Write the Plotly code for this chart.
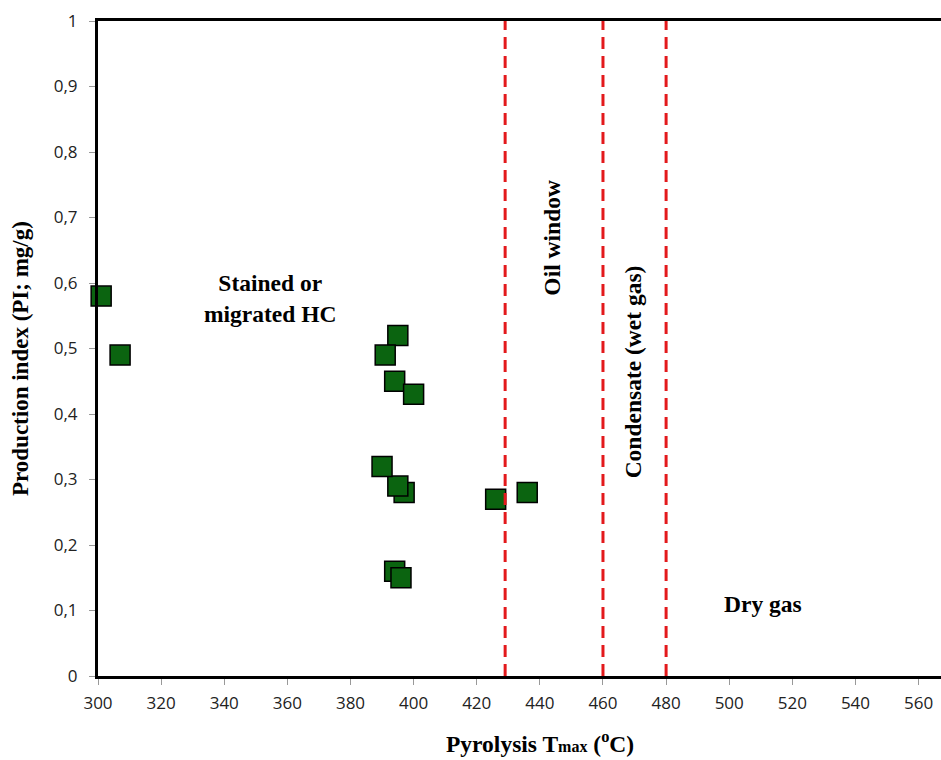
import plotly.graph_objects as go

# Data
tmax = [301, 307, 395, 391, 394, 400, 397, 395, 390, 394, 396, 426, 436]
pi = [0.58, 0.49, 0.52, 0.49, 0.45, 0.43, 0.28, 0.29, 0.32, 0.16, 0.15, 0.27, 0.28]

boundaries = [429, 460, 480]

x_ticks = [300, 320, 340, 360, 380, 400, 420, 440, 460, 480, 500, 520, 540, 560, 580]
y_ticks = [0, 0.1, 0.2, 0.3, 0.4, 0.5, 0.6, 0.7, 0.8, 0.9, 1]
y_tick_text = ["0", "0,1", "0,2", "0,3", "0,4", "0,5", "0,6", "0,7", "0,8", "0,9", "1"]

zone_labels = ["Stained or<br>migrated HC", "Oil window", "Condensate (wet gas)", "Dry gas"]
zone_x = [354.6, 443.8, 469.6, 510.7]
zone_y = [0.577, 0.669, 0.464, 0.11]
zone_angle = [0, -90, -90, 0]

serif = "Liberation Serif, Times New Roman, serif"

fig = go.Figure()
fig.add_trace(go.Scatter(
    x=tmax, y=pi, mode="markers",
    marker=dict(symbol="square", size=20, color="#0b6410",
                line=dict(color="black", width=1.5)),
    showlegend=False, cliponaxis=False,
))

for b in boundaries:
    fig.add_shape(type="line", x0=b, x1=b, y0=0, y1=1, xref="x", yref="y",
                  line=dict(color="#e3191c", width=3, dash="12px,7px"), layer="above")

for t, xx, yy, a in zip(zone_labels, zone_x, zone_y, zone_angle):
    fig.add_annotation(x=xx, y=yy, xref="x", yref="y", text="<b>" + t + "</b>",
                       showarrow=False, textangle=a,
                       font=dict(family=serif, size=23.5, color="black"))

# Axis titles
fig.add_annotation(x=440, y=-0.126, xref="x", yref="paper", xanchor="center", yanchor="bottom",
                   text="<b>Pyrolysis T<span style='font-size:16px'>max</span> (<sup>o</sup>C)</b>",
                   showarrow=False, font=dict(family=serif, size=23.5, color="black"))
fig.add_annotation(x=-0.0913, y=0.484, xref="paper", yref="paper", xanchor="center", yanchor="middle",
                   text="<b>Production index (PI; mg/g)</b>", textangle=-90,
                   showarrow=False, font=dict(family=serif, size=23, color="black"))

fig.update_layout(
    width=941, height=760,
    margin=dict(l=98, r=0, t=21, b=84),
    plot_bgcolor="white", paper_bgcolor="white",
    xaxis=dict(range=[300, 567.1], tickvals=x_ticks, showgrid=False, zeroline=False,
               showline=True, linecolor="black", linewidth=3, mirror=True,
               ticks="outside", ticklen=6, tickcolor="#999", tickwidth=1,
               ticklabelstandoff=4,
               tickfont=dict(family="Open Sans", size=17, color="#222")),
    yaxis=dict(range=[0, 1], tickvals=y_ticks, ticktext=y_tick_text, showgrid=False,
               zeroline=False, showline=True, linecolor="black", linewidth=3,
               ticks="outside", ticklen=6, tickcolor="#999", tickwidth=1,
               ticklabelstandoff=8,
               tickfont=dict(family="Open Sans", size=17, color="#222")),
)

fig.write_html("out.html")
